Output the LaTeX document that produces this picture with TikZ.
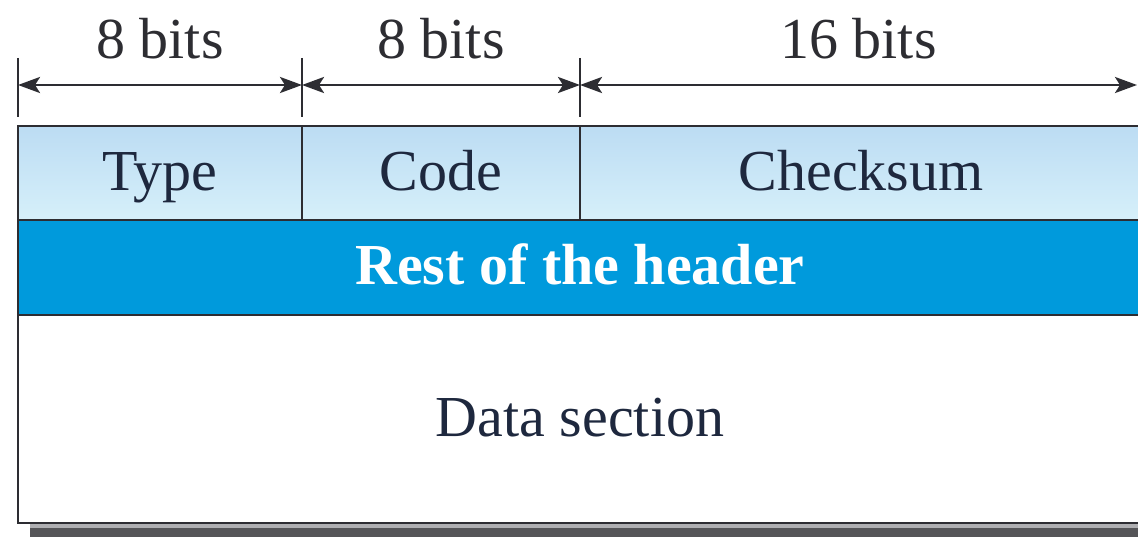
\documentclass[tikz,border=0pt]{standalone}
\usepackage{fontspec}
\setmainfont{Liberation Serif}
\usepackage{tikz}
\usetikzlibrary{positioning,arrows.meta}
\definecolor{rowtop}{RGB}{188,220,243}
\definecolor{rowbot}{RGB}{214,240,250}
\definecolor{bandblue}{RGB}{0,154,220}
\definecolor{inkdark}{RGB}{30,40,62}
\definecolor{framegray}{RGB}{45,45,50}
\definecolor{shadowdark}{RGB}{85,85,88}
\definecolor{shadowlight}{RGB}{175,175,178}
\newcommand{\bigfont}{\fontsize{33}{40}\selectfont}
\tikzstyle{field} = [rectangle, draw=framegray, line width=1.4pt, outer sep=0pt, inner sep=0pt, text height=0.8cm, text depth=0.12cm, minimum height=1.88cm, top color=rowtop, bottom color=rowbot, text=inkdark, font=\bigfont]
\tikzstyle{band} = [rectangle, draw=framegray, line width=1.4pt, outer sep=0pt, inner sep=0pt, text height=0.8cm, text depth=0.12cm, minimum width=22.48cm, minimum height=1.9cm, fill=bandblue, text=white, font=\bigfont\bfseries]
\tikzstyle{datafield} = [rectangle, draw=framegray, line width=1.4pt, outer sep=0pt, inner sep=0pt, text height=0.8cm, text depth=0.12cm, minimum width=22.48cm, minimum height=4.16cm, fill=white, text=inkdark, font=\bigfont]
\tikzstyle{dimarrow} = [line width=1.6pt, draw=framegray, {Stealth[length=0.44cm,width=0.32cm,inset=0.1cm]}-{Stealth[length=0.44cm,width=0.32cm,inset=0.1cm]}]
\tikzstyle{tick} = [line width=1.5pt, draw=framegray]
\tikzstyle{bitlabel} = [midway, anchor=base, yshift=0.52cm, inner sep=0pt, text=framegray, font=\bigfont]

\begin{document}
\begin{tikzpicture}
	\useasboundingbox (0,0) rectangle (22.76,-10.74);
	% shadow under the frame
	\fill [shadowdark] (0.6,-10.56) rectangle (23,-10.74);
	\fill [shadowlight] (0.6,-10.46) rectangle (23,-10.56);

	\node (type) [field, minimum width=5.68cm, anchor=north west] at (0.36,-2.52) {Type};
	\node (code) [field, minimum width=5.56cm, right=0pt of type] {Code};
	\node (chk) [field, minimum width=11.24cm, right=0pt of code] {Checksum};
	\node (rest) [band, below right=0pt and 0pt of type.south west] {Rest of the header};
	\node (data) [datafield, below=0pt of rest] {Data section};

	% widths
	\coordinate (t0) at (0.36,-1.7);
	\coordinate (t1) at (6.04,-1.7);
	\coordinate (t2) at (11.6,-1.7);
	\coordinate (t3) at (22.74,-1.7);
	\draw [tick] (t0) ++(0,0.54) -- ++(0,-1.18);
	\draw [tick] (t1) ++(0,0.54) -- ++(0,-1.18);
	\draw [tick] (t2) ++(0,0.54) -- ++(0,-1.18);
	\draw [dimarrow] (t0) -- node[bitlabel] {8 bits} (t1);
	\draw [dimarrow] (t1) -- node[bitlabel] {8 bits} (t2);
	\draw [dimarrow] (t2) -- node[bitlabel] {16 bits} (t3);
\end{tikzpicture}
\end{document}
